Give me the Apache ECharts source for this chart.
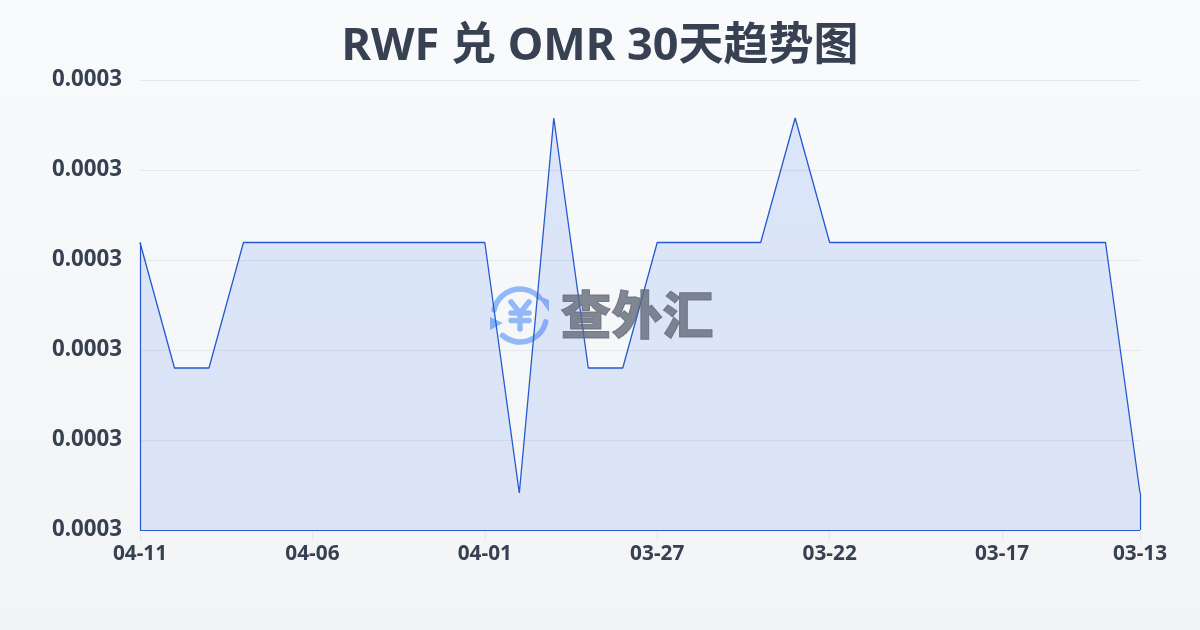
<!DOCTYPE html>
<html><head><meta charset="utf-8">
<style>html,body{margin:0;padding:0;width:1200px;height:630px;overflow:hidden}#c{width:1200px;height:630px}</style>
<script src="https://cdn.jsdelivr.net/npm/echarts@6/dist/echarts.min.js"></script>
</head><body><div id="c"></div>
<script>
const titleText = 'RWF 兑 OMR 30天趋势图';
const dates = ['04-11','04-10','04-09','04-08','04-07','04-06','04-05','04-04','04-03','04-02','04-01','03-31','03-30','03-29','03-28','03-27','03-26','03-25','03-24','03-23','03-22','03-21','03-20','03-19','03-18','03-17','03-16','03-15','03-14','03-13'];
const rates = [0.00026726,0.000266256,0.000266256,0.00026726,0.00026726,0.00026726,0.00026726,0.00026726,0.00026726,0.00026726,0.00026726,0.000265256,0.000268256,0.000266256,0.000266256,0.00026726,0.00026726,0.00026726,0.00026726,0.000268256,0.00026726,0.00026726,0.00026726,0.00026726,0.00026726,0.00026726,0.00026726,0.00026726,0.00026726,0.000265256];
const yMin = 0.00026496, yMax = 0.00026856, yStep = 0.00000072;
const last = dates.length - 1;
const chart = echarts.init(document.getElementById('c'), null, {renderer:'canvas'});
const lineBlue = '#2459cf';
const logoBlue = '#93b8f8';
const labelFont = '"Noto Sans","Noto Sans CJK SC",sans-serif';
const logoStroke = {stroke:logoBlue,lineWidth:5.5,fill:null,lineCap:'round',lineJoin:'round'};
chart.setOption({
  animation:false,
  backgroundColor:{type:'linear',x:0,y:0,x2:0,y2:1,colorStops:[{offset:0,color:'#f8fafc'},{offset:1,color:'#f3f4f6'}]},
  title:{text:titleText,left:'center',top:20,textStyle:{fontFamily:labelFont,fontSize:45,fontWeight:'bold',color:'#374151'}},
  grid:{left:140,right:60,top:80,bottom:100,containLabel:false},
  xAxis:{type:'category',boundaryGap:false,data:dates,
    axisLine:{show:false},
    axisTick:{show:true,interval:4,alignWithLabel:true,length:11,lineStyle:{color:'#e5e7eb'}},
    axisLabel:{interval:(i)=>i%5===0||i===last,showMinLabel:true,showMaxLabel:true,hideOverlap:false,margin:14,fontFamily:labelFont,fontSize:20.8,fontWeight:'bold',color:'#374151'},
    splitLine:{show:false}},
  yAxis:{type:'value',min:yMin,max:yMax,interval:yStep,
    axisLine:{show:false},axisTick:{show:false},
    axisLabel:{margin:18,padding:[3,0,0,0],fontFamily:labelFont,fontSize:22.3,fontWeight:'bold',color:'#374151',formatter:v=>v.toFixed(4)},
    splitLine:{show:true,lineStyle:{color:'#e5e7eb',width:1}}},
  graphic:{elements:[
    {type:'group',left:0,top:0,z:0,children:[
      {type:'rect',shape:{x:0,y:0,width:1,height:1},style:{fill:'rgba(0,0,0,0)'}},
      {type:'arc',shape:{cx:520,cy:315.5,r:26.5,startAngle:-2.93,endAngle:-0.75},style:logoStroke},
      {type:'arc',shape:{cx:520,cy:315.5,r:26.5,startAngle:0.24,endAngle:2.29},style:logoStroke},
      {type:'polygon',shape:{points:[[537,295],[549,300],[549,312]]},style:{fill:logoBlue}},
      {type:'polygon',shape:{points:[[490,317],[490,330],[503,323]]},style:{fill:logoBlue}},
      {type:'polyline',shape:{points:[[511,302],[520,313],[529,302]]},style:logoStroke},
      {type:'polyline',shape:{points:[[520,313],[520,329]]},style:logoStroke},
      {type:'polyline',shape:{points:[[511,313],[529,313]]},style:logoStroke},
      {type:'polyline',shape:{points:[[511,320.5],[529,320.5]]},style:logoStroke}
    ]},
    {type:'text',left:560,top:289,z:5,style:{text:'查外汇',font:'900 51px "Noto Sans CJK SC",sans-serif',fill:'#636978',stroke:'#636978',lineWidth:1,opacity:0.8}}
  ]},
  series:[{type:'line',data:rates,symbol:'none',smooth:false,z:2,
    lineStyle:{color:lineBlue,width:1.3},
    areaStyle:{color:{type:'linear',x:0,y:0,x2:0,y2:1,colorStops:[{offset:0,color:'rgba(37,99,235,0.19)'},{offset:1,color:'rgba(37,99,235,0.17)'}]},origin:'start'},
    markLine:{silent:true,symbol:'none',label:{show:false},animation:false,lineStyle:{color:lineBlue,width:1.2,type:'solid'},emphasis:{disabled:true},
      data:[
        [{coord:[dates[0],yMin]},{coord:[dates[0],rates[0]]}],
        [{coord:[dates[0],yMin]},{coord:[dates[last],yMin]}],
        [{coord:[dates[last],yMin]},{coord:[dates[last],rates[last]]}]
      ]}
  }]
});
</script></body></html>
